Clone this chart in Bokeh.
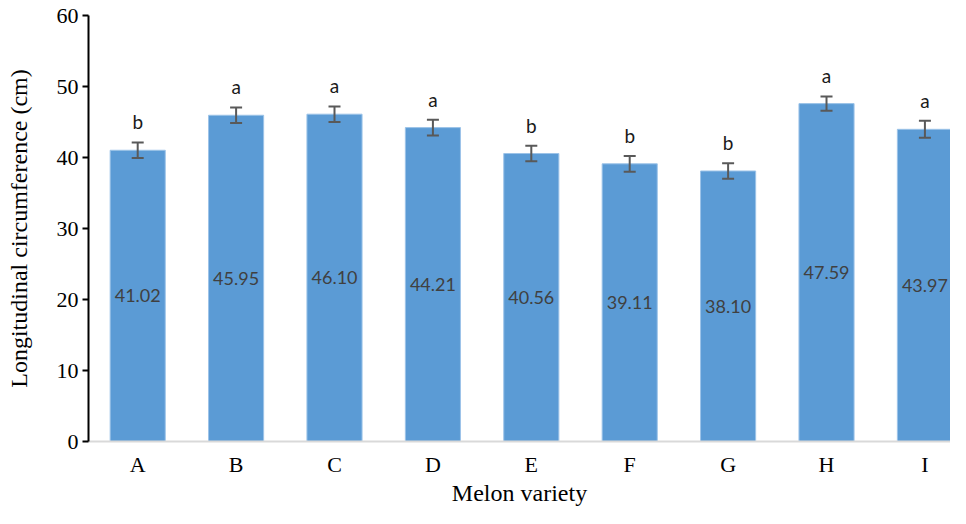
from bokeh.plotting import figure
from bokeh.models import ColumnDataSource, Range1d, Whisker, TeeHead, FixedTicker
from bokeh.embed import file_html
from bokeh.resources import INLINE
from bokeh.core.properties import value

varieties = ["A", "B", "C", "D", "E", "F", "G", "H", "I"]
means = [41.02, 45.95, 46.10, 44.21, 40.56, 39.11, 38.10, 47.59, 43.97]
errors = [1.1, 1.1, 1.1, 1.1, 1.1, 1.1, 1.1, 1.0, 1.2]
letters = ["b", "a", "a", "a", "b", "b", "b", "a", "a"]
y_ticks = [0, 10, 20, 30, 40, 50, 60]

x = list(range(len(varieties)))
src = ColumnDataSource(dict(
    x=x,
    mean=means,
    upper=[m + e for m, e in zip(means, errors)],
    lower=[m - e for m, e in zip(means, errors)],
    letter_y=[m + e + 2.9 for m, e in zip(means, errors)],
    mid=[m / 2 for m in means],
    lbl=["%.2f" % m for m in means],
    letter=letters,
))

p = figure(width=950, height=508, output_backend="svg", toolbar_location=None,
           x_range=Range1d(-0.5, 8.26), y_range=Range1d(0, 60),
           min_border_left=88, min_border_right=0, min_border_top=15, min_border_bottom=58)
p.outline_line_color = None
p.grid.visible = False
p.background_fill_color = "white"

p.vbar(x="x", top="mean", width=0.56, bottom=0, source=src,
       fill_color="#5b9bd5", line_color="#9cc3e8", line_width=1)

w = Whisker(base="x", upper="upper", lower="lower", source=src, level="overlay",
            line_color="#595959", line_width=2,
            upper_head=TeeHead(size=12, line_color="#595959", line_width=2),
            lower_head=TeeHead(size=12, line_color="#595959", line_width=2))
p.add_layout(w)

p.text(x="x", y="mid", text="lbl", source=src, text_align="center", text_baseline="middle",
       text_font=value("Lato"), text_font_size="18px", text_color="#404040")
p.text(x="x", y="letter_y", text="letter", source=src, text_align="center", text_baseline="middle",
       text_font=value("Lato"), text_font_size="19px", text_color="#1a1a1a")

# x axis
p.xaxis.ticker = FixedTicker(ticks=x)
p.xaxis.major_label_overrides = {i: v for i, v in enumerate(varieties)}
p.xaxis.major_tick_line_color = None
p.xaxis.minor_tick_line_color = None
p.xaxis.axis_line_color = "#d9d9d9"
p.xaxis.axis_line_width = 2
p.xaxis.major_label_text_font = "Liberation Serif"
p.xaxis.major_label_text_font_size = "22px"
p.xaxis.major_label_text_color = "#000000"
p.xaxis.major_label_standoff = 4
p.xaxis.axis_label = "Melon variety"
p.xaxis.axis_label_text_font = "Liberation Serif"
p.xaxis.axis_label_text_font_size = "24px"
p.xaxis.axis_label_text_font_style = "normal"
p.xaxis.axis_label_text_color = "#000000"
p.xaxis.axis_label_standoff = 0

# y axis
p.yaxis.ticker = FixedTicker(ticks=y_ticks)
p.yaxis.axis_line_color = "black"
p.yaxis.axis_line_width = 2
p.yaxis.major_tick_line_color = "black"
p.yaxis.major_tick_line_width = 2
p.yaxis.major_tick_out = 6
p.yaxis.major_tick_in = 0
p.yaxis.minor_tick_line_color = None
p.yaxis.major_label_text_font = "Liberation Serif"
p.yaxis.major_label_text_font_size = "22px"
p.yaxis.major_label_text_color = "#000000"
p.yaxis.major_label_standoff = 4
p.yaxis.axis_label = "Longitudinal circumference (cm)"
p.yaxis.axis_label_text_font = "Liberation Serif"
p.yaxis.axis_label_text_font_size = "24px"
p.yaxis.axis_label_text_font_style = "normal"
p.yaxis.axis_label_text_color = "#000000"
p.yaxis.axis_label_standoff = 22

open("out.html", "w").write(file_html(p, INLINE))
